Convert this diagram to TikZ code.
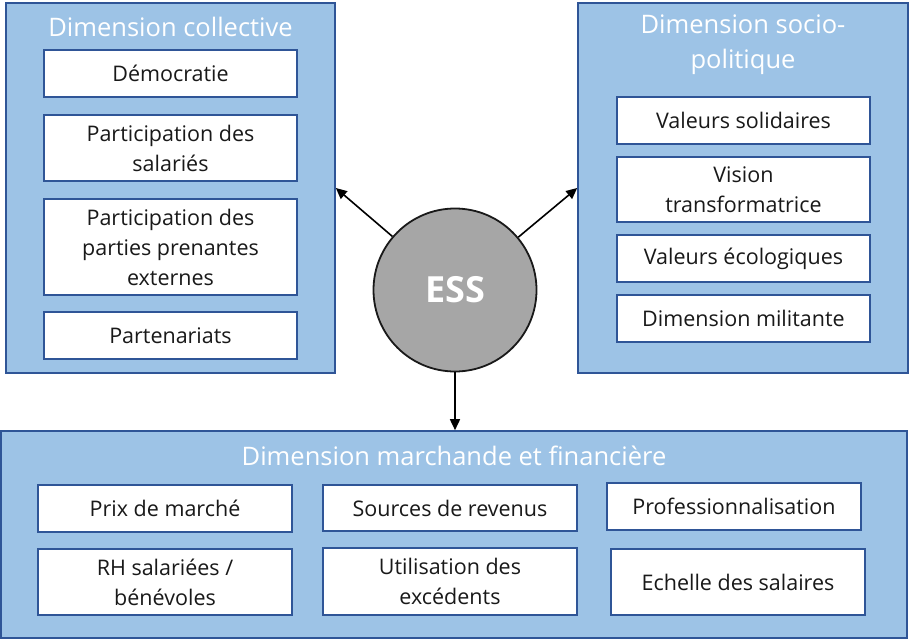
\documentclass[tikz,border=0pt]{standalone}
\usepackage{fontspec}
\setmainfont{Open Sans}
\usetikzlibrary{arrows.meta,calc}
\definecolor{lblue}{HTML}{9DC3E6}
\definecolor{dblue}{HTML}{2F5597}
\definecolor{essgray}{HTML}{A6A6A6}
\begin{document}
\begin{tikzpicture}[x=1pt,y=1pt,
  outerbox/.style={draw=dblue,fill=lblue,line width=1.6pt,inner sep=0pt},
  innerbox/.style={draw=dblue,fill=white,line width=1.6pt,inner sep=0pt,minimum width=253pt,align=center,font=\fontsize{21.5}{30}\selectfont,text=black!90},
  title/.style={text=white,align=center,font=\fontsize{25.5}{35}\selectfont,inner sep=0pt},
  conn/.style={line width=1.6pt,-{Triangle[length=11pt,width=10pt]}}]
\useasboundingbox (0,0) rectangle (909,-640);
% outer boxes
\node[outerbox,minimum width=329pt,minimum height=370pt] (lbox) at (170.5,-188) {};
\node[outerbox,minimum width=330pt,minimum height=370pt] (rbox) at (743,-188) {};
\node[outerbox,minimum width=906pt,minimum height=207pt] (bbox) at (454,-534.5) {};
% titles
\node[title] (lt) at (170.5,-27) {Dimension collective};
\node[title] (rt) at (743,-44.5) {Dimension socio-\\politique};
\node[title] (bt) at (454,-456) {Dimension marchande et financière};
% left inner
\node[innerbox,minimum height=47pt] (l1) at (170.5,-73.5) {Démocratie};
\node[innerbox,minimum height=66pt] (l2) at (170.5,-148) {Participation des\\salariés};
\node[innerbox,minimum height=96pt] (l3) at (170.5,-247) {Participation des\\parties prenantes\\externes};
\node[innerbox,minimum height=47pt] (l4) at (170.5,-335.5) {Partenariats};
% right inner
\node[innerbox,minimum height=47pt] (r1) at (743.5,-120.5) {Valeurs solidaires};
\node[innerbox,minimum height=65pt] (r2) at (743.5,-189.5) {Vision\\transformatrice};
\node[innerbox,minimum height=47pt] (r3) at (743.5,-258.5) {Valeurs écologiques};
\node[innerbox,minimum height=47pt] (r4) at (743.5,-318.5) {Dimension militante};
% bottom inner
\node[innerbox,minimum width=254pt,minimum height=47pt] (b1) at (165,-508.5) {Prix de marché};
\node[innerbox,minimum width=254pt,minimum height=46pt] (b2) at (450,-508) {Sources de revenus};
\node[innerbox,minimum width=254pt,minimum height=47pt] (b3) at (734,-506.5) {Professionnalisation};
\node[innerbox,minimum width=254pt,minimum height=66pt] (b4) at (165,-582) {RH salariées /\\bénévoles};
\node[innerbox,minimum width=254pt,minimum height=67pt] (b5) at (450,-581.5) {Utilisation des\\excédents};
\node[innerbox,minimum width=254pt,minimum height=66pt] (b6) at (738,-582) {Echelle des salaires};
% ESS
\node[circle,draw=black!90,fill=essgray,line width=1.8pt,minimum size=163pt,inner sep=0pt,text=white,font=\fontsize{36}{40}\selectfont\bfseries] (ess) at (455,-290) {ESS};
% connectors
\draw[conn] (ess) -- (lbox.east);
\draw[conn] (ess) -- (rbox.west);
\draw[conn] (ess.south) -- (ess.south |- bbox.north);
\end{tikzpicture}
\end{document}
